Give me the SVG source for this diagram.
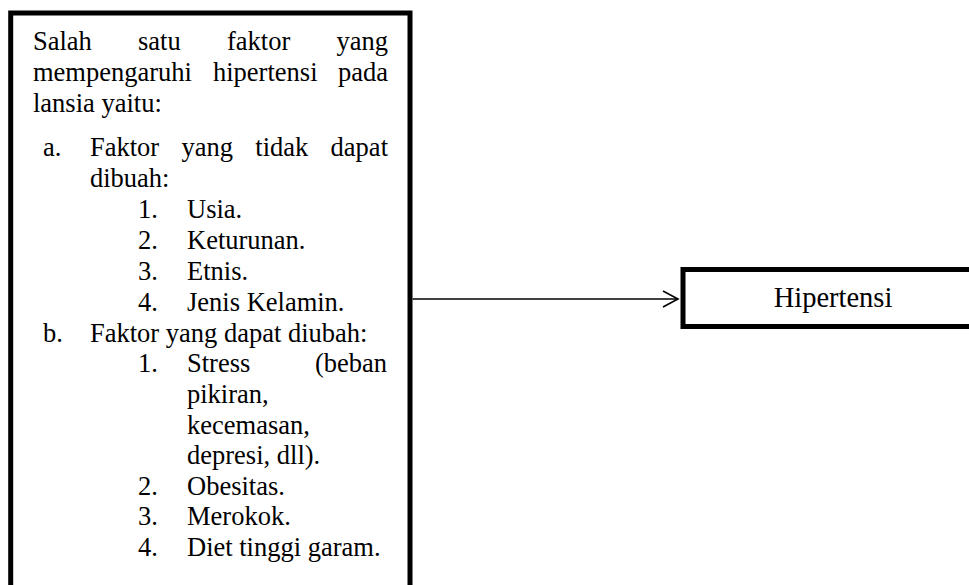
<svg xmlns="http://www.w3.org/2000/svg" width="969" height="585" viewBox="0 0 969 585">
<style>
.box{fill:#fff;stroke:#000;stroke-width:5}
.t{font-family:"Liberation Serif","Times New Roman",serif;font-size:26.5px;fill:#000}
.h{font-family:"Liberation Serif","Times New Roman",serif;font-size:28.5px;fill:#000}
.conn{stroke:#000;stroke-width:1.6;fill:none}
</style>
<defs>
<marker id="arr" markerWidth="20" markerHeight="20" refX="16" refY="9" orient="auto" markerUnits="userSpaceOnUse">
<path d="M1,1 L16,9 L1,17" fill="none" stroke="#000" stroke-width="1.6"/>
</marker>
</defs>
<rect width="969" height="585" fill="#fff"/>
<g id="factors">
<rect class="box" x="10.7" y="13" width="399.3" height="600"/>
<text class="t" x="33" y="50">Salah</text>
<text class="t" x="138" y="50">satu</text>
<text class="t" x="227" y="50">faktor</text>
<text class="t" x="388" y="50" text-anchor="end">yang</text>
<text class="t" x="33" y="81">mempengaruhi</text>
<text class="t" x="213" y="81">hipertensi</text>
<text class="t" x="388" y="81" text-anchor="end">pada</text>
<text class="t" x="33" y="112">lansia yaitu:</text>
<text class="t" x="43" y="156">a.</text>
<text class="t" x="90" y="156">Faktor</text>
<text class="t" x="181.5" y="156">yang</text>
<text class="t" x="255.3" y="156">tidak</text>
<text class="t" x="388" y="156" text-anchor="end">dapat</text>
<text class="t" x="90" y="187">dibuah:</text>
<text class="t" x="138" y="218">1.</text><text class="t" x="187" y="218">Usia.</text>
<text class="t" x="138" y="249">2.</text><text class="t" x="187" y="249">Keturunan.</text>
<text class="t" x="138" y="280">3.</text><text class="t" x="187" y="280">Etnis.</text>
<text class="t" x="138" y="311">4.</text><text class="t" x="187" y="311">Jenis Kelamin.</text>
<text class="t" x="43" y="342">b.</text><text class="t" x="90" y="342">Faktor yang dapat diubah:</text>
<text class="t" x="138" y="372">1.</text><text class="t" x="187" y="372">Stress</text>
<text class="t" x="387" y="372" text-anchor="end">(beban</text>
<text class="t" x="187" y="403">pikiran,</text>
<text class="t" x="187" y="434">kecemasan,</text>
<text class="t" x="187" y="464">depresi, dll).</text>
<text class="t" x="138" y="495">2.</text><text class="t" x="187" y="495">Obesitas.</text>
<text class="t" x="138" y="525">3.</text><text class="t" x="187" y="525">Merokok.</text>
<text class="t" x="138" y="556">4.</text><text class="t" x="187" y="556">Diet tinggi garam.</text>
</g>
<g id="hipertensi">
<rect class="box" x="683" y="269.5" width="320" height="57"/>
<text class="h" x="833" y="306.5" text-anchor="middle">Hipertensi</text>
</g>
<g id="connectors">
<line class="conn" x1="412.5" y1="299" x2="678" y2="299" marker-end="url(#arr)"/>
</g>
</svg>
